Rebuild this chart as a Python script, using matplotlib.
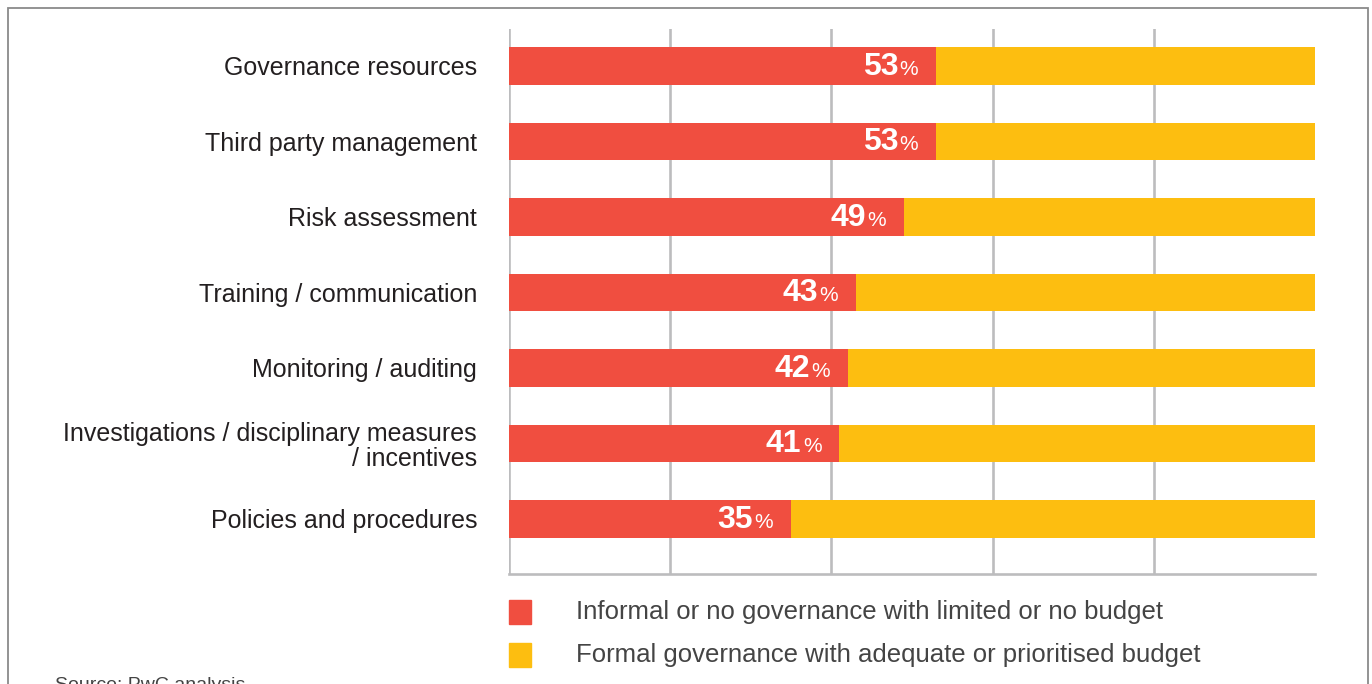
import matplotlib.pyplot as plt
from matplotlib.patches import Rectangle

plt.rcParams['font.family'] = ['Liberation Sans', 'DejaVu Sans']

# Daten
categories = ['Governance resources', 'Third party management', 'Risk assessment',
              'Training / communication', 'Monitoring / auditing',
              'Investigations / disciplinary measures\n/ incentives',
              'Policies and procedures']
informal = [53, 53, 49, 43, 42, 41, 35]
formal = [47, 47, 51, 57, 58, 59, 65]
legend_labels = ['Informal or no governance with limited or no budget',
                 'Formal governance with adequate or prioritised budget']

red = '#f04e40'
yellow = '#fdbe10'
grey = '#bcbcbe'

fig = plt.figure(figsize=(13.72, 6.84), dpi=100)
ax = fig.add_axes([509 / 1372, 1 - 574 / 684, 806 / 1372, 545 / 684])

y = list(range(len(categories)))
ax.barh(y, informal, height=0.5, color=red, zorder=3)
ax.barh(y, formal, left=informal, height=0.5, color=yellow, zorder=3)

ax.set_xlim(0, 100)
ax.set_ylim(6.73, -0.49)
ax.set_xticks([0, 20, 40, 60, 80])
ax.xaxis.grid(True, color=grey, linewidth=1.9, zorder=0)
ax.tick_params(axis='x', length=0, labelbottom=False)
ax.tick_params(axis='y', length=0, pad=23, labelsize=18, labelcolor='#231f20')
ax.set_yticks(y)
ax.set_yticklabels(categories, ha='right', linespacing=1.05)
for s in ['top', 'right', 'left']:
    ax.spines[s].set_visible(False)
ax.spines['bottom'].set_color(grey)
ax.spines['bottom'].set_linewidth(1.9)

# Werte in den Balken
for yi, v in zip(y, informal):
    ax.annotate('%', (v, yi), xytext=(-18, -9), textcoords='offset pixels',
                ha='right', va='baseline', color='white', fontsize=15, zorder=4)
    ax.annotate(str(v), (v, yi), xytext=(-38, -9), textcoords='offset pixels',
                ha='right', va='baseline', color='white', fontsize=23,
                fontweight='bold', zorder=4)

# Legende
for i, (lab, c) in enumerate(zip(legend_labels, [red, yellow])):
    ytop = 600 + i * 43
    fig.patches.append(Rectangle((509 / 1372, 1 - (ytop + 24) / 684), 22 / 1372, 24 / 684,
                                 transform=fig.transFigure, color=c))
    fig.text(576 / 1372, 1 - (ytop + 12) / 684, lab, fontsize=18.5, color='#444444',
             va='center', ha='left')

# Rahmen
fig.patches.append(Rectangle((8 / 1372, -0.05), 1360 / 1372, 1 - 8 / 684 + 0.05,
                             transform=fig.transFigure, fill=False,
                             edgecolor='#8a8a8a', linewidth=1.3))

fig.text(55 / 1372, 1 - 677 / 684, 'Source: PwC analysis', fontsize=14,
         color='#444444', va='top', ha='left')

fig.savefig('out.png', dpi=100)
